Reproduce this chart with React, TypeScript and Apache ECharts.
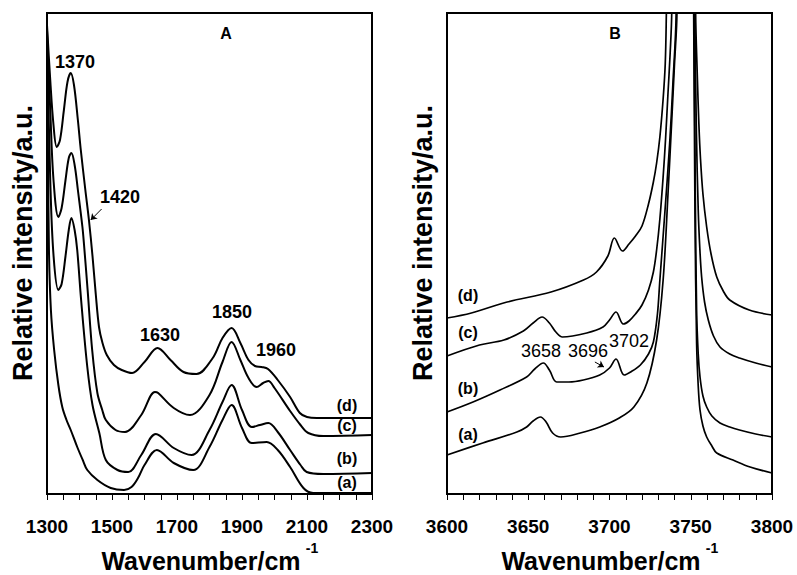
import React, { useEffect, useRef } from 'react';
import * as echarts from 'echarts';

const FONT = '"Liberation Sans", Arial, Helvetica, sans-serif';

// Panel A: wavenumber (cm-1) vs relative intensity (a.u.)
const A_TICK_LABELS = [1300, 1500, 1700, 1900, 2100, 2300];
const A_d: [number, number][] = [
  [1300, 469], [1310, 414], [1320, 369], [1330, 347], [1340, 354], [1352, 384], [1363, 412], [1373, 421],
  [1383, 409], [1395, 374], [1404, 344], [1418, 304], [1429, 274], [1440, 238], [1450, 200], [1460, 167],
  [1470, 152], [1484, 139], [1506, 129], [1530, 124], [1562, 121], [1600, 132], [1640, 146], [1680, 134],
  [1720, 122], [1760, 120], [1810, 136], [1840, 156], [1868, 166], [1895, 151], [1920, 134], [1940, 128],
  [1960, 127], [1980, 125], [2010, 114], [2048, 97], [2078, 81], [2100, 77], [2130, 76], [2200, 76], [2300, 76],
];
const A_c: [number, number][] = [
  [1300, 464], [1310, 384], [1320, 314], [1335, 277], [1345, 286], [1357, 314], [1367, 336], [1375, 341],
  [1385, 329], [1395, 304], [1409, 267], [1414, 249], [1425, 204], [1439, 144], [1455, 101], [1470, 84],
  [1481, 74], [1511, 64], [1540, 62], [1590, 79], [1632, 102], [1642, 101], [1690, 86], [1740, 79],
  [1800, 99], [1840, 132], [1868, 152], [1895, 134], [1920, 116], [1945, 107], [1965, 111], [1981, 113],
  [2000, 106], [2048, 83], [2080, 69], [2104, 61], [2150, 58], [2300, 59],
];
const A_b: [number, number][] = [
  [1300, 459], [1310, 314], [1320, 239], [1335, 204], [1345, 210], [1357, 238], [1367, 264], [1375, 276],
  [1385, 264], [1393, 244], [1405, 194], [1424, 127], [1440, 89], [1461, 61], [1481, 34], [1517, 24],
  [1550, 22], [1590, 39], [1635, 60], [1690, 46], [1745, 39], [1800, 64], [1840, 92], [1868, 109],
  [1900, 84], [1930, 67], [1955, 69], [1981, 71], [2010, 62], [2048, 44], [2080, 29], [2099, 22],
  [2150, 20], [2300, 21],
];
const A_a: [number, number][] = [
  [1300, 454], [1303, 344], [1306, 244], [1312, 184], [1322, 144], [1335, 109], [1347, 87], [1360, 74],
  [1373, 64], [1393, 47], [1410, 34], [1424, 24], [1455, 14], [1496, 6], [1537, 4], [1560, 7], [1580, 16],
  [1600, 29], [1638, 44], [1690, 31], [1750, 24], [1800, 47], [1840, 74], [1868, 89], [1900, 66], [1930, 51],
  [1976, 52], [2010, 44], [2048, 27], [2089, 6], [2119, 1], [2200, 1], [2300, 1],
];

// Panel B
const B_TICK_LABELS = [3600, 3650, 3700, 3750, 3800];
const B_d: [number, number][] = [
  [3600, 176], [3615, 181], [3637, 192], [3664, 202], [3684, 214], [3692, 222], [3699, 238], [3703, 256],
  [3708, 243], [3712, 250], [3716, 258], [3720, 268], [3724, 290], [3727, 312], [3729, 331], [3731, 357],
  [3733, 395], [3734.3, 430], [3735, 481], [3746, 1500], [3753, 481], [3754, 420], [3755, 370], [3756, 335],
  [3757.5, 300], [3759.8, 267], [3762.5, 240], [3766, 217], [3770, 203], [3774, 194], [3786, 184], [3800, 179],
];
const B_c: [number, number][] = [
  [3600, 138], [3620, 149], [3635, 154], [3647, 163], [3653, 171], [3658.5, 177], [3663, 171], [3667, 162],
  [3671, 157], [3686, 161], [3696, 167], [3700, 174], [3704, 182], [3708.5, 170], [3712, 173], [3716, 180],
  [3720, 189], [3724, 204], [3727, 222], [3729, 244], [3731, 275], [3733, 317], [3734.5, 355], [3736, 401],
  [3737.3, 440], [3738.3, 481], [3746, 1500], [3752.5, 481], [3753.5, 360], [3754.6, 284], [3755.6, 245],
  [3756.7, 217], [3758.5, 192], [3760.8, 174], [3764, 158], [3768, 147], [3774, 140], [3780, 136],
  [3790, 131], [3800, 127],
];
const B_b: [number, number][] = [
  [3600, 82], [3616, 92], [3632.6, 104], [3649, 117], [3654, 125], [3659.3, 131], [3663, 124], [3667.5, 112],
  [3675, 112], [3683.9, 114], [3694, 119], [3700, 126], [3704, 135], [3709, 119], [3713, 122], [3719, 129],
  [3724, 140], [3727, 152], [3729.5, 180], [3731, 214], [3734, 280], [3737, 350], [3739, 410], [3741, 481],
  [3746, 1500], [3752, 481], [3752.8, 300], [3753.6, 184], [3754.6, 140], [3755.7, 117], [3757.5, 98],
  [3759.8, 87], [3763, 78], [3768, 71], [3774, 67], [3780, 64], [3790, 60], [3800, 57],
];
const B_a: [number, number][] = [
  [3600, 39], [3622, 51], [3643, 62], [3649, 67], [3653, 73], [3657.5, 77], [3661, 72], [3665, 61],
  [3670, 57], [3682, 61], [3694, 67], [3706, 76], [3715, 87], [3723, 111], [3729, 154], [3733, 214],
  [3736, 300], [3738.5, 380], [3740, 430], [3741.5, 481], [3746, 1500], [3751.8, 481], [3752.6, 280],
  [3753.6, 151], [3754.6, 108], [3755.7, 84], [3757.5, 68], [3759.8, 57], [3763, 48], [3766, 41],
  [3776, 34], [3786.5, 27], [3800, 21],
];

const ARROW_1420: [number, number][] = [[1468, 285], [1434.5, 274]];
const ARROW_3696: [number, number][] = [[3691, 132], [3696.6, 127]];

function txt(text: string, x: number, y: number, size: number, bold = true, rotation = 0) {
  return {
    type: 'text',
    x,
    y,
    rotation,
    silent: true,
    style: {
      text,
      fill: '#000',
      fontSize: size,
      fontWeight: bold ? 'bold' : 'normal',
      fontFamily: FONT,
      align: 'center',
      verticalAlign: 'middle',
    },
  };
}

function xAxisCfg(gridIndex: number, min: number, max: number, interval: number, labels: number[]) {
  return {
    type: 'value',
    gridIndex,
    min,
    max,
    interval,
    axisLine: { show: true, lineStyle: { color: '#000', width: 2 } },
    axisTick: { show: true, inside: false, length: 6, lineStyle: { color: '#000', width: 1 } },
    splitLine: { show: false },
    axisLabel: {
      show: true,
      margin: 23,
      color: '#000',
      fontSize: 19,
      fontWeight: 'bold',
      fontFamily: FONT,
      formatter: (v: number) => (labels.includes(Math.round(v)) ? String(Math.round(v)) : ''),
    },
  };
}

function yAxisCfg(gridIndex: number) {
  return {
    type: 'value',
    gridIndex,
    min: 0,
    max: 481,
    axisLine: { show: true, lineStyle: { color: '#000', width: 2 } },
    axisTick: { show: false },
    axisLabel: { show: false },
    splitLine: { show: false },
  };
}

function lineSeries(data: [number, number][], idx: number, width: number, extra: any = {}) {
  return {
    type: 'line',
    xAxisIndex: idx,
    yAxisIndex: idx,
    data,
    symbol: 'none',
    showSymbol: false,
    smooth: 0.35,
    clip: true,
    silent: true,
    lineStyle: { color: '#000', width },
    ...extra,
  };
}

function arrowMark(pts: [number, number][]) {
  return {
    markLine: {
      silent: true,
      animation: false,
      symbol: ['none', 'arrow'],
      symbolSize: 6,
      label: { show: false },
      lineStyle: { color: '#000', width: 1, type: 'solid' },
      data: [[{ coord: pts[0] }, { coord: pts[1] }]],
    },
  };
}

export default function App() {
  const ref = useRef<HTMLDivElement>(null);
  useEffect(() => {
    if (!ref.current) return;
    const chart = echarts.init(ref.current, null, { renderer: 'svg' });
    const option: any = {
      animation: false,
      backgroundColor: '#fff',
      grid: [
        { left: 47, top: 13, width: 325, height: 481, show: true, borderColor: '#000', borderWidth: 2, backgroundColor: 'transparent' },
        { left: 447, top: 13, width: 325, height: 481, show: true, borderColor: '#000', borderWidth: 2, backgroundColor: 'transparent' },
      ],
      xAxis: [xAxisCfg(0, 1300, 2300, 50, A_TICK_LABELS), xAxisCfg(1, 3600, 3800, 10, B_TICK_LABELS)],
      yAxis: [yAxisCfg(0), yAxisCfg(1)],
      series: [
        lineSeries(A_d, 0, 2, arrowMark(ARROW_1420)),
        lineSeries(A_c, 0, 2),
        lineSeries(A_b, 0, 2),
        lineSeries(A_a, 0, 2),
        lineSeries(B_d, 1, 1.7, arrowMark(ARROW_3696)),
        lineSeries(B_c, 1, 1.7),
        lineSeries(B_b, 1, 1.7),
        lineSeries(B_a, 1, 1.7),
      ],
      graphic: [
        txt('A', 226, 33, 16),
        txt('B', 615, 33, 16),
        txt('1370', 75, 62, 18),
        txt('1420', 120, 197, 18),
        txt('1630', 160, 335, 18),
        txt('1850', 232, 312, 18),
        txt('1960', 276, 350, 18),
        txt('(d)', 347, 405, 16),
        txt('(c)', 347, 425, 16),
        txt('(b)', 347, 458, 16),
        txt('(a)', 347, 482, 16),
        txt('(d)', 468, 295, 16),
        txt('(c)', 468, 332, 16),
        txt('(b)', 468, 388, 16),
        txt('(a)', 468, 434, 16),
        txt('3658', 541, 351, 18, false),
        txt('3696', 588, 351, 18, false),
        txt('3702', 629, 341, 18, false),
        txt('Wavenumber/cm', 201, 561, 25),
        txt('-1', 312, 548, 14),
        txt('Wavenumber/cm', 601, 561, 25),
        txt('-1', 712, 548, 14),
        txt('Relative intensity/a.u.', 23, 243, 27, true, Math.PI / 2),
        txt('Relative intensity/a.u.', 423, 243, 27, true, Math.PI / 2),
      ],
    };
    chart.setOption(option);
    return () => chart.dispose();
  }, []);
  return <div ref={ref} style={{ position: 'fixed', left: 0, top: 0, width: 797, height: 575 }} />;
}
